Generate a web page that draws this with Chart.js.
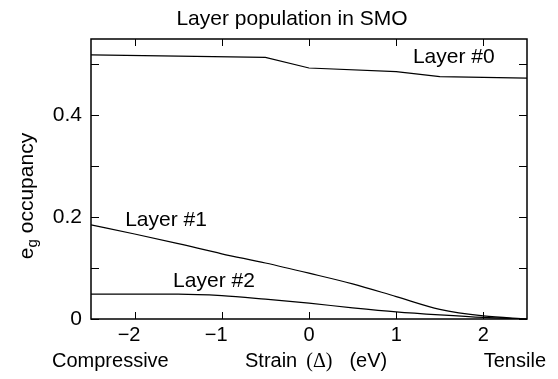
<!DOCTYPE html>
<html>
<head>
<meta charset="utf-8">
<script src="https://cdn.jsdelivr.net/npm/chart.js@4.4.1/dist/chart.umd.min.js"></script>
<style>
  html, body { margin: 0; padding: 0; background: #fff; }
  #wrap { width: 558px; height: 379px; }
</style>
</head>
<body>
<div id="wrap"><canvas id="layerChart"></canvas></div>
<script>
// strain values (eV) and e_g occupancy per layer
const strain = [-2.5, -2, -1.5, -1, -0.5, 0, 0.5, 1, 1.5, 2, 2.5];
const strainLayer0 = [-2.5, -0.5, 0, 1, 1.5, 2.5];
const layer0 = [0.519, 0.514, 0.493, 0.486, 0.476, 0.473];
const layer1 = [0.185, 0.167, 0.148, 0.128, 0.110, 0.090, 0.069, 0.044, 0.019, 0.006, 0.0];
const layer2 = [0.049, 0.049, 0.049, 0.046, 0.039, 0.031, 0.022, 0.014, 0.008, 0.003, 0.0];
const xTickValues = [-2, -1, 0, 1, 2];
const yTickLabels = ['0', '0.2', '0.4'];
const layerNames = ['Layer #0', 'Layer #1', 'Layer #2'];

const FONT = '"Liberation Sans", Arial, Helvetica, sans-serif';
const SERIF = '"Liberation Serif", "Times New Roman", serif';

// baseline-centre of each layer name, in data units
const namePos = [
    { x: 1.66, y: 0.502 },
    { x: -1.64, y: 0.182 },
    { x: -1.09, y: 0.0625 }
];

const toPairs = (xs, ys) => xs.map((x, i) => ({ x: x, y: ys[i] }));

// frame, inward ticks on all four sides, and the extra text
const decorations = {
    id: 'decorations',
    afterDraw(chart) {
        const ctx = chart.ctx;
        const area = chart.chartArea;
        const xs = chart.scales.x;
        const ys = chart.scales.y;
        ctx.save();
        ctx.strokeStyle = '#000';
        ctx.lineWidth = 1.5;
        ctx.strokeRect(area.left, area.top, area.right - area.left, area.bottom - area.top);

        ctx.lineWidth = 1;
        ctx.beginPath();
        xs.ticks.forEach(t => {
            const px = Math.round(xs.getPixelForValue(t.value)) + 0.5;
            ctx.moveTo(px, area.bottom); ctx.lineTo(px, area.bottom - 7);
            ctx.moveTo(px, area.top); ctx.lineTo(px, area.top + 7);
        });
        ys.ticks.forEach(t => {
            const py = Math.round(ys.getPixelForValue(t.value)) + 0.5;
            ctx.moveTo(area.left, py); ctx.lineTo(area.left + 8, py);
            ctx.moveTo(area.right, py); ctx.lineTo(area.right - 8, py);
        });
        ctx.stroke();

        ctx.fillStyle = '#000';
        ctx.textBaseline = 'alphabetic';
        ctx.textAlign = 'center';
        ctx.font = '21px ' + FONT;
        ctx.fillText('Layer population in SMO', 292, 25);

        layerNames.forEach((name, i) => {
            ctx.fillText(name, xs.getPixelForValue(namePos[i].x), ys.getPixelForValue(namePos[i].y));
        });

        // bottom row under the tick labels
        const rowY = 367;
        ctx.font = '20px ' + FONT;
        ctx.textAlign = 'left';
        ctx.fillText('Compressive', 52, rowY);
        ctx.textAlign = 'right';
        ctx.fillText('Tensile', 546, rowY);
        ctx.textAlign = 'left';
        let cx = 245;
        ctx.fillText('Strain', cx, rowY);
        cx += ctx.measureText('Strain').width + 9;
        ctx.font = '20px ' + SERIF;
        ctx.fillText('(\u0394)', cx, rowY);
        cx += ctx.measureText('(\u0394)').width + 17;
        ctx.font = '20px ' + FONT;
        ctx.fillText('(eV)', cx, rowY);

        // rotated y title with subscript g
        ctx.translate(33, 196);
        ctx.rotate(-Math.PI / 2);
        ctx.textAlign = 'left';
        ctx.font = '21px ' + FONT;
        const wE = ctx.measureText('e').width;
        const wRest = ctx.measureText(' occupancy').width;
        ctx.font = '15px ' + FONT;
        const wG = ctx.measureText('g').width;
        let tx = -(wE + wG + wRest) / 2;
        ctx.font = '21px ' + FONT;
        ctx.fillText('e', tx, 0);
        tx += wE;
        ctx.font = '15px ' + FONT;
        ctx.fillText('g', tx, 4);
        tx += wG;
        ctx.font = '21px ' + FONT;
        ctx.fillText(' occupancy', tx, 0);
        ctx.restore();
    }
};

const lineStyle = {
    borderColor: '#000',
    borderWidth: 1.2,
    pointRadius: 0,
    fill: false
};

new Chart(document.getElementById('layerChart'), {
    type: 'line',
    data: {
        datasets: [
            Object.assign({ label: layerNames[0], data: toPairs(strainLayer0, layer0), tension: 0 }, lineStyle),
            Object.assign({ label: layerNames[1], data: toPairs(strain, layer1), cubicInterpolationMode: 'monotone' }, lineStyle),
            Object.assign({ label: layerNames[2], data: toPairs(strain, layer2), cubicInterpolationMode: 'monotone' }, lineStyle)
        ]
    },
    options: {
        responsive: true,
        maintainAspectRatio: false,
        animation: false,
        layout: { padding: { top: 39, right: 31, left: 0, bottom: 0 } },
        plugins: {
            legend: { display: false },
            tooltip: { enabled: false },
            title: { display: false }
        },
        scales: {
            x: {
                type: 'linear',
                min: -2.5,
                max: 2.5,
                afterFit: s => { s.height = 60; },
                afterBuildTicks: s => { s.ticks = xTickValues.map(v => ({ value: v })); },
                grid: { display: false, drawTicks: false },
                border: { display: false },
                ticks: {
                    padding: 4,
                    color: '#000',
                    font: { family: FONT, size: 20 },
                    // minus sign hangs left of the tick, digit stays centred
                    callback: v => (v < 0 ? '\u2212' + Math.abs(v) + '\u2007' : String(v))
                }
            },
            y: {
                min: 0,
                max: 0.55,
                afterFit: s => { s.width = 91; },
                grid: { display: false, drawTicks: false },
                border: { display: false },
                ticks: {
                    stepSize: 0.1,
                    includeBounds: false,
                    padding: 9,
                    color: '#000',
                    font: { family: FONT, size: 21 },
                    callback: (v) => {
                        const k = Math.round(v * 10);
                        return k % 2 === 0 ? yTickLabels[k / 2] : '';
                    }
                }
            }
        }
    },
    plugins: [decorations]
});
</script>
</body>
</html>
